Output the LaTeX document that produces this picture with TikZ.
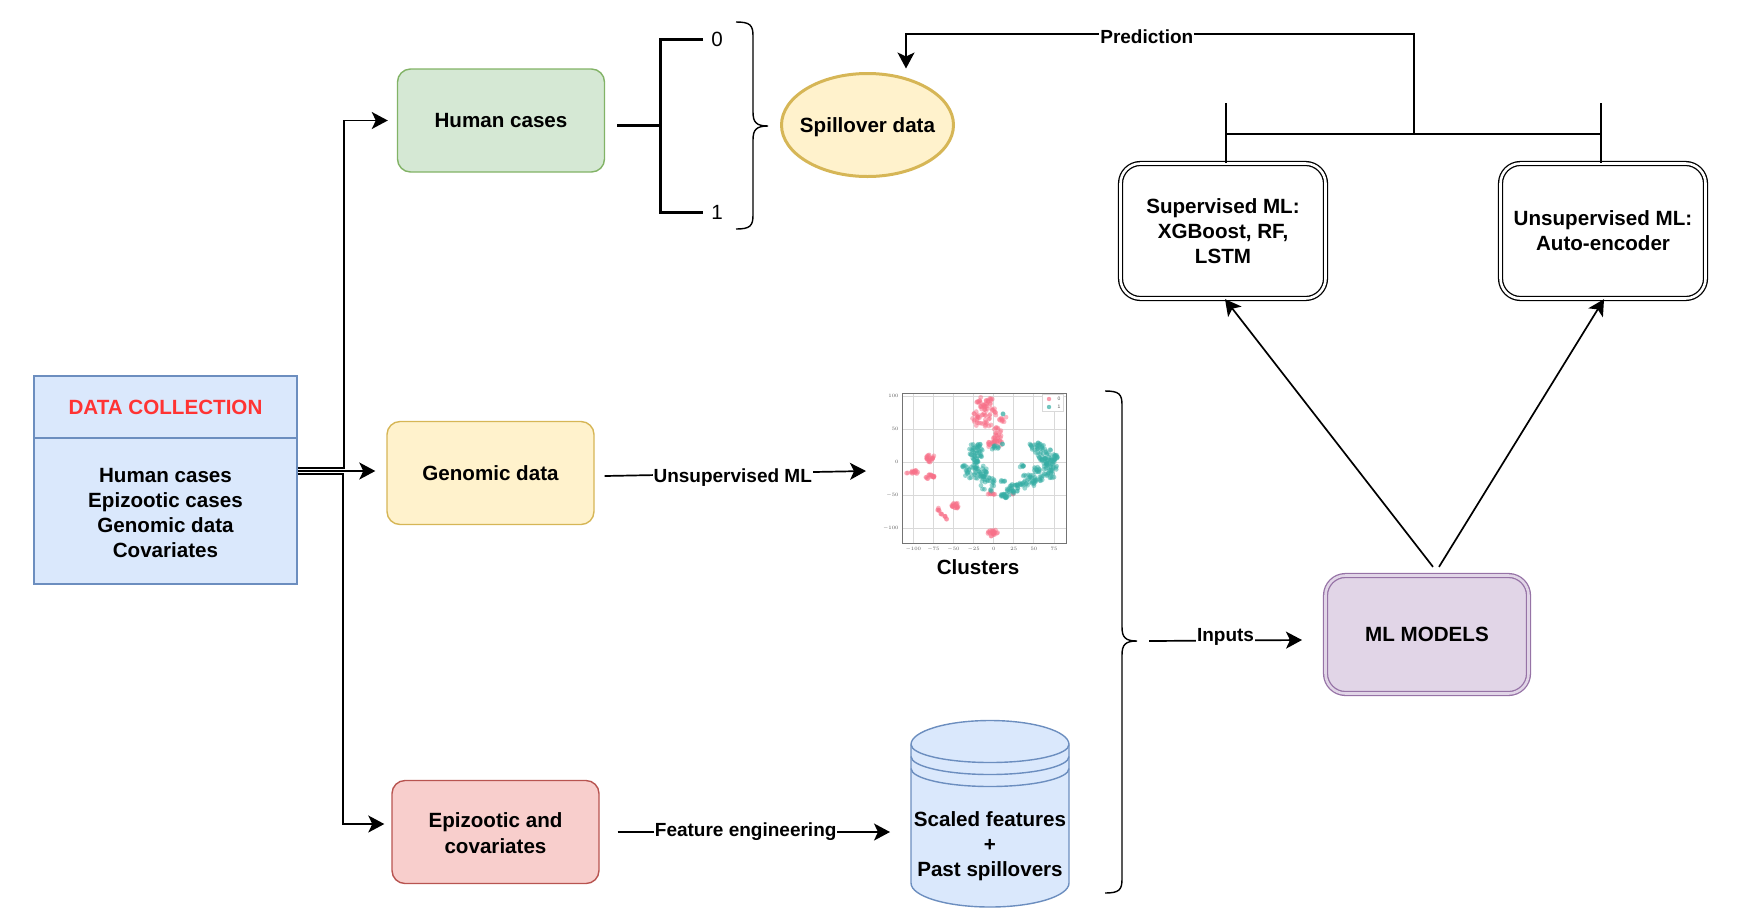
\documentclass[tikz,border=0pt]{standalone}
\usepackage{fontspec}
\setmainfont{Liberation Sans}
\usetikzlibrary{arrows.meta,shapes.geometric}
\definecolor{bluefill}{HTML}{DAE8FC}
\definecolor{blueline}{HTML}{6C8EBF}
\definecolor{greenfill}{HTML}{D5E8D4}
\definecolor{greenline}{HTML}{82B366}
\definecolor{yellowfill}{HTML}{FFF2CC}
\definecolor{yellowline}{HTML}{D6B656}
\definecolor{redfill}{HTML}{F8CECC}
\definecolor{redline}{HTML}{B85450}
\definecolor{purplefill}{HTML}{E1D5E7}
\definecolor{purpleline}{HTML}{9673A6}
\definecolor{titlered}{HTML}{FF3333}
\definecolor{clusterpink}{HTML}{F77189}
\definecolor{clusterteal}{HTML}{36ADA4}
\tikzset{
  label text/.style={font=\bfseries\fontsize{20.6}{25}\selectfont,align=center,inner sep=0pt},
  stagebox/.style={label text,draw,rounded corners=13pt,line width=1.4pt,minimum width=207pt,minimum height=103pt},
  listbox/.style={label text,draw=blueline,fill=bluefill,line width=1.4pt,minimum width=263pt},
  modelbox/.style={label text,draw=black,double=white,double distance=2.6pt,line width=1.3pt,rounded corners=20pt,minimum width=205pt,minimum height=135pt},
  flow/.style={-{Stealth[length=16pt,width=17pt,inset=4pt]},line width=1.7pt},
  plain line/.style={line width=1.6pt},
  bin line/.style={line width=3pt},
  edge text/.style={font=\bfseries\fontsize{19}{23}\selectfont,fill=white,inner sep=1pt},
  tick text/.style={font=\fontsize{5}{6}\selectfont,text=black!65,inner sep=0pt},
}
\begin{document}
\begin{tikzpicture}[x=1pt,y=-1pt]
\useasboundingbox (0,0) rectangle (1744,914);
\node[listbox,minimum height=62pt,text=titlered] (collect) at (165.5,407) {DATA COLLECTION};
\node[listbox,minimum height=146pt] (sources) at (165.5,511) {\rule{0pt}{18pt}Human cases\\Epizootic cases\\Genomic data\\Covariates};
\node[stagebox,draw=greenline,fill=greenfill] (human) at (501,120.5) {Human cases};
\node[stagebox,draw=yellowline,fill=yellowfill] (genomic) at (490.5,473) {Genomic data};
\node[stagebox,draw=redline,fill=redfill] (epizootic) at (495.5,832) {\rule{0pt}{18pt}Epizootic and\\[1pt]covariates};
\node[label text,ellipse,draw=yellowline,fill=yellowfill,line width=3pt,inner xsep=-8pt,text depth=0pt,minimum width=172pt,minimum height=103pt] (spillover) at (867.5,125) {Spillover data};
\node[font=\fontsize{20.6}{25}\selectfont,inner sep=0pt] (zero) at (717,39) {0};
\node[font=\fontsize{20.6}{25}\selectfont,inner sep=0pt] (one) at (717,212) {1};
\node[modelbox] (supervised) at (1223,231) {Supervised ML:\\XGBoost, RF,\\LSTM};
\node[modelbox] (unsupervised) at (1603,231) {Unsupervised ML:\\Auto-encoder};
\node[modelbox,draw=purpleline,double=purplefill,fill=purplefill,minimum width=203pt,minimum height=118pt] (models) at (1427,634.5) {ML MODELS};
\node[label text] (clusters) at (978,567) {Clusters};
\coordinate (binroot) at (660,125);
\coordinate (plotin) at (866,471);
\coordinate (storein) at (890,832);
\coordinate (modelsin) at (1302,640);
\coordinate (inputsout) at (1149,641);
\coordinate (predjoin) at (1414,134);
\coordinate (superstub) at (1226,103);
\coordinate (unsuperstub) at (1601,103);
\draw[flow] ([yshift=43pt]sources.east) -- ++(46,0) |- ([xshift=-9pt]human.west);
\draw[flow] ([yshift=40pt]sources.east) -- ([xshift=-11pt,yshift=2pt]genomic.west);
\draw[flow] ([yshift=37pt]sources.east) -- ++(45,0) |- ([xshift=-7pt,yshift=8pt]epizootic.west);
\draw[bin line] ([xshift=12pt,yshift=-4.5pt]human.east) -- (binroot);
\draw[bin line] ([xshift=-8pt]zero.west) -| (binroot) |- ([xshift=-8pt]one.west);
\draw[line width=1.4pt] (736,22) .. controls (750,22) and (753,25) .. (753,36) -- (753,112) .. controls (753,122) and (756,126) .. (768,126) .. controls (756,126) and (753,130) .. (753,140) -- (753,215) .. controls (753,226) and (750,229) .. (736,229);
\draw[line width=1.4pt] (1105,391) .. controls (1119,391) and (1122,394) .. (1122,405) -- (1122,627) .. controls (1122,637) and (1125,641) .. (1137,641) .. controls (1125,641) and (1122,645) .. (1122,655) -- (1122,879) .. controls (1122,890) and (1119,893) .. (1105,893);
\draw[flow] ([xshift=10pt,yshift=-3pt]genomic.east) -- node[edge text,pos=.49,yshift=-4pt] {Unsupervised ML} (plotin);
\draw[flow] ([xshift=18pt]epizootic.east) -- node[edge text,pos=.47] {Feature engineering} (storein);
\draw[flow] (inputsout) -- node[edge text,yshift=4pt] {Inputs} (modelsin);
\draw[flow] ([xshift=6pt,yshift=8pt]models.north) -- ([xshift=2pt]supervised.south);
\draw[flow] ([xshift=12pt,yshift=8pt]models.north) -- ([xshift=1pt]unsupervised.south);
\draw[plain line] (superstub) -- ([xshift=3pt]supervised.north);
\draw[plain line] (unsuperstub) -- ([xshift=-2pt]unsupervised.north);
\draw[plain line] (1226,134) -- (1601,134);
\draw[flow] (predjoin) |- node[edge text,pos=.763,yshift=-3pt] {Prediction} (906,34) -- ([xshift=38.5pt,yshift=3.5pt]spillover.north);
\draw[blueline,fill=bluefill,line width=1.4pt] (911,744.5) arc[start angle=180,end angle=0,x radius=79pt,y radius=24pt] -- (1069,883) arc[start angle=0,end angle=-180,x radius=79pt,y radius=24pt] -- cycle;
\draw[blueline,line width=1.4pt] (911,744.5) arc[start angle=180,end angle=360,x radius=79pt,y radius=18pt];
\draw[blueline,line width=1.4pt] (911,756.5) arc[start angle=180,end angle=360,x radius=79pt,y radius=18pt];
\draw[blueline,line width=1.4pt] (911,768.5) arc[start angle=180,end angle=360,x radius=79pt,y radius=18pt];
\node[label text] (scaled) at (990,846.5) {Scaled features\\+\\Past spillovers};
\begin{scope}[shift={(993.7,462.3)},x=0.804pt,y=0.662pt]
\foreach \gx in {-100,-75,...,75} {
  \draw[black!15,line width=1pt] (\gx,-122) -- (\gx,104.7);
  \node[tick text] at (\gx,-131) {$\gx$};
}
\foreach \gy in {-100,-50,...,100} {
  \draw[black!15,line width=.8pt] (-114,\gy) -- (90,\gy);
  \node[tick text,anchor=east] at (-118,\gy) {$\gy$};
}
\pgfmathsetseed{11}
\foreach \cx/\cy/\rx/\ry/\num/\col in {
  -13/75/13/19/48/clusterpink,-5/89/5/7/6/clusterpink,11/67/4/5/6/clusterpink,5/42/5/11/15/clusterpink,4/30/6/6/10/clusterpink,-7/28/2/4/4/clusterpink,
  -79/6/5/5/14/clusterpink,-79/-22/5/3/12/clusterpink,-102/-15/6/3/10/clusterpink,-3/-47/4/2/5/clusterpink,-48/-65/4/4/12/clusterpink,
  -68/-72/2/3/3/clusterpink,-65/-78/1/1/2/clusterpink,-60/-83/2/3/3/clusterpink,0/-107/6/4/16/clusterpink,24/-48/1/1/1/clusterpink,
  -22/15/7/13/35/clusterteal,-22/-15/12/10/30/clusterteal,-8/-30/7/14/20/clusterteal,-37/-5/2/3/3/clusterteal,0/22/5/3/6/clusterteal,
  12/73/1/1/1/clusterteal,11/28/1/1/1/clusterteal,11/-28/3/1/3/clusterteal,14/-50/6/3/12/clusterteal,27/-40/10/6/18/clusterteal,
  40/-33/10/5/14/clusterteal,35/-6/2/2/4/clusterteal,40/-20/5/2/4/clusterteal,52/-24/8/5/12/clusterteal,53/-12/5/4/8/clusterteal,
  68/-20/7/4/10/clusterteal,70/-5/8/8/24/clusterteal,65/10/12/8/30/clusterteal,52/25/8/5/16/clusterteal} {
  \pgfmathtruncatemacro{\many}{ceil(\num*1.5)}
  \foreach \i in {1,...,\many} {
    \pgfmathsetmacro{\ang}{rnd*360}
    \pgfmathsetmacro{\rad}{1.25*sqrt(rnd)}
    \fill[\col,opacity=.5] ({\cx+\rx*\rad*cos(\ang)},{\cy+\ry*\rad*sin(\ang)}) circle (2.4pt);
  }
}
\draw[black!55,line width=.9pt] (-114,-122) rectangle (90,104.7);
\end{scope}
\draw[black!15,fill=white,line width=.5pt] (1042,394) rectangle (1063,411);
\fill[clusterpink,opacity=.7] (1049,399) circle (2.2pt);
\fill[clusterteal,opacity=.7] (1049,407) circle (2.2pt);
\node[tick text] at (1059,399) {0};
\node[tick text] at (1059,407) {1};
\end{tikzpicture}
\end{document}
